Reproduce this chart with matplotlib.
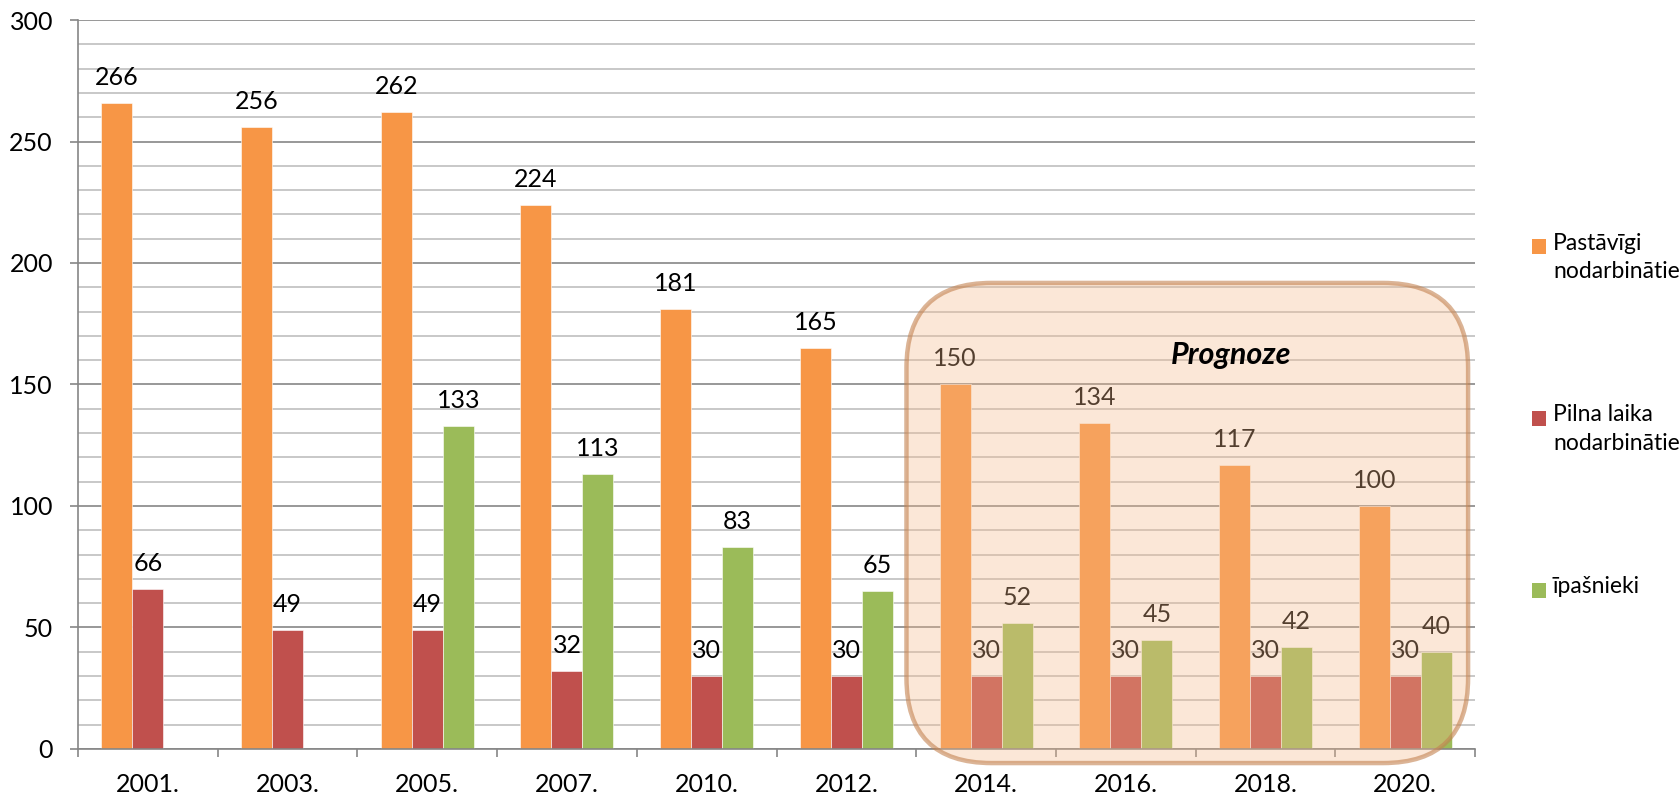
import numpy as np
import matplotlib
matplotlib.use("Agg")
import matplotlib.pyplot as plt
from matplotlib.patches import FancyBboxPatch, Rectangle

plt.rcParams['font.family'] = ['Lato', 'DejaVu Sans']

years = ["2001.", "2003.", "2005.", "2007.", "2010.", "2012.",
         "2014.", "2016.", "2018.", "2020."]
pastavigi = [266, 256, 262, 224, 181, 165, 150, 134, 117, 100]
pilna_laika = [66, 49, 49, 32, 30, 30, 30, 30, 30, 30]
ipasnieki = [np.nan, np.nan, 133, 113, 83, 65, 52, 45, 42, 40]
series_names = ["Pastāvīgi\nnodarbinātie", "Pilna laika\nnodarbinātie", "īpašnieki"]
colors = ["#F79646", "#C0504D", "#9BBB59"]
FS = 18

fig = plt.figure(figsize=(16.81, 7.94), dpi=100)
ax = fig.add_axes([0.0464, 0.0567, 0.8311, 0.9181])

x = np.arange(len(years))
w = 0.222
for k, (vals, c) in enumerate(zip([pastavigi, pilna_laika, ipasnieki], colors)):
    pos = x + (k - 1) * w
    ax.bar(pos, vals, width=w, color=c, edgecolor="white", linewidth=0.4, zorder=2)
    for px, v in zip(pos, vals):
        if np.isnan(v):
            continue
        ax.annotate(f"{v:.0f}", (px, v), xytext=(0, 13), textcoords="offset points",
                    ha="center", va="baseline", fontsize=FS, zorder=3)

ax.set_xlim(-0.5, len(years) - 0.5)
ax.set_ylim(0, 300)
ax.set_yticks(np.arange(0, 301, 50))
ax.set_yticks(np.arange(0, 301, 10), minor=True)
ax.grid(axis="y", which="major", color="#868686", linewidth=1.2, zorder=0)
ax.grid(axis="y", which="minor", color="#BFBFBF", linewidth=1.2, zorder=0)
ax.set_axisbelow(True)
ax.tick_params(axis="y", which="major", length=6, width=1.2, color="#868686",
               pad=12, labelsize=FS)
ax.tick_params(axis="y", which="minor", length=0)

ax.set_xticks(np.arange(-0.5, len(years), 1.0))
ax.set_xticklabels([])
ax.set_xticks(x, minor=True)
ax.set_xticklabels(years, minor=True)
ax.tick_params(axis="x", which="major", length=6, width=1.2, color="#868686")
ax.tick_params(axis="x", which="minor", length=0, pad=17, labelsize=FS)

for s in ["top", "right"]:
    ax.spines[s].set_visible(False)
for s in ["left", "bottom"]:
    ax.spines[s].set_color("#868686")
    ax.spines[s].set_linewidth(1.2)

# forecast box
fig.canvas.draw()
bb = ax.get_window_extent()
px_x = bb.width / (len(years))
px_y = bb.height / 300
r_px = 85
box_x0, box_x1 = 5.43, 9.45
box_y0, box_y1 = -5.8, 191.8
rx = r_px / px_x
aspect = (r_px / px_y) / rx
box = FancyBboxPatch((box_x0, box_y0), box_x1 - box_x0, box_y1 - box_y0,
                     boxstyle=f"round,pad=0,rounding_size={rx}",
                     mutation_aspect=aspect,
                     facecolor=(246/255, 187/255, 140/255, 0.34),
                     edgecolor=(195/255, 130/255, 80/255, 0.6),
                     linewidth=3.2, zorder=5, clip_on=False)
ax.add_patch(box)
ax.text(7.75, 162, "Prognoze", ha="center", va="center", fontsize=22,
        fontweight="bold", fontstyle="italic", zorder=6)

# legend
leg_items = [(0.683, series_names[0]), (0.467, series_names[1]), (0.250, series_names[2])]
for (ytop, name), c in zip(leg_items, colors):
    fig.patches.append(Rectangle((1532 / 1681, ytop - 0.0035), 14 / 1681, 15 / 794,
                                 transform=fig.transFigure, facecolor=c, edgecolor="none"))
    fig.text(1553 / 1681, ytop + 0.024, name, ha="left", va="top", fontsize=16.5,
             linespacing=1.45)

fig.savefig("out.png", dpi=100)
